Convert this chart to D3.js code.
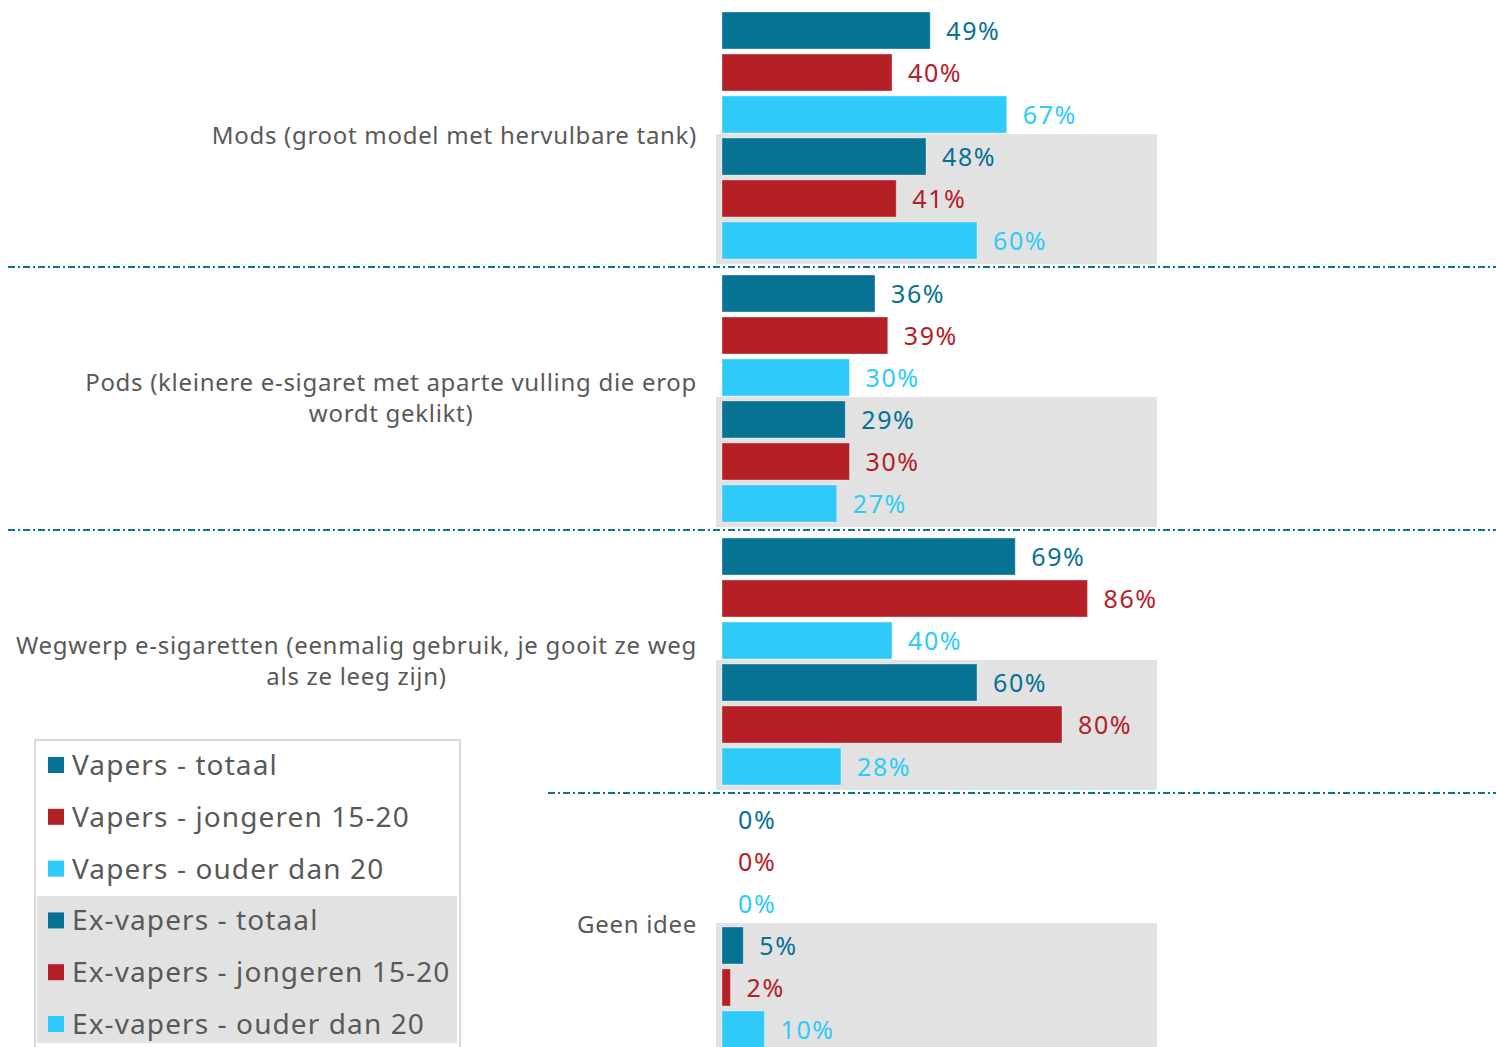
<!DOCTYPE html>
<html>
<head>
<meta charset="utf-8">
<script src="https://cdn.jsdelivr.net/npm/d3@7"></script>
<style>
  body { margin: 0; background: #fff; }
  svg { display: block; }
  text { font-family: "Noto Sans", sans-serif; }
</style>
</head>
<body>
<div id="chart"></div>
<script>
// categories (label lines as they wrap in the picture)
var categories = ["Mods", "Pods", "Wegwerp", "Geen idee"];
var categoryLines = [
  ["Mods (groot model met hervulbare tank)"],
  ["Pods (kleinere e-sigaret met aparte vulling die erop", "wordt geklikt)"],
  ["Wegwerp e-sigaretten (eenmalig gebruik, je gooit ze weg", "als ze leeg zijn)"],
  ["Geen idee"]
];
var seriesNames = [
  "Vapers - totaal",
  "Vapers - jongeren 15-20",
  "Vapers - ouder dan 20",
  "Ex-vapers - totaal",
  "Ex-vapers - jongeren 15-20",
  "Ex-vapers - ouder dan 20"
];
var vapersTotaal = [49, 36, 69, 0];
var vapersJongeren = [40, 39, 86, 0];
var vapersOuder = [67, 30, 40, 0];
var exTotaal = [48, 29, 60, 5];
var exJongeren = [41, 30, 80, 2];
var exOuder = [60, 27, 28, 10];
var seriesValues = [vapersTotaal, vapersJongeren, vapersOuder, exTotaal, exJongeren, exOuder];
var colors = ["#067294", "#b52027", "#2ecbfa", "#067294", "#b52027", "#2ecbfa"];

var width = 1496, height = 1047;
var svg = d3.select("#chart").append("svg").attr("width", width).attr("height", height);

var x = d3.scaleLinear().domain([0, 100]).range([722, 1147]);
var y = d3.scaleBand().domain(categories).range([6, 6 + 4 * 263]);
var yInner = d3.scaleBand().domain(d3.range(6)).range([3.5, 255.5])
  .paddingInner(5 / 42).paddingOuter(2.5 / 42);

var bgLeft = 716, bgRight = 1157;

// grey background behind the ex-vapers bars
svg.append("g").selectAll("rect").data(categories).enter().append("rect")
  .attr("x", bgLeft)
  .attr("y", function(d) { return y(d) + 128; })
  .attr("width", bgRight - bgLeft)
  .attr("height", 130)
  .attr("fill", "#e2e2e2");

// separators
var sepData = [
  {c: categories[1], x1: 8},
  {c: categories[2], x1: 8},
  {c: categories[3], x1: 548}
];
svg.append("g").selectAll("line").data(sepData).enter().append("line")
  .attr("x1", function(d) { return d.x1; })
  .attr("x2", width)
  .attr("y1", function(d) { return y(d.c) - 2; })
  .attr("y2", function(d) { return y(d.c) - 2; })
  .attr("stroke", "#0b7391")
  .attr("stroke-width", 2)
  .attr("stroke-dasharray", "7,3,2,3");

// bars
var rows = [];
categories.forEach(function(c, ci) {
  seriesValues.forEach(function(vals, si) {
    rows.push({cat: c, s: si, v: vals[ci]});
  });
});
var bars = svg.append("g");
bars.selectAll("rect").data(rows).enter().append("rect")
  .attr("x", x(0))
  .attr("y", function(d) { return y(d.cat) + yInner(d.s); })
  .attr("width", function(d) { return x(d.v) - x(0); })
  .attr("height", yInner.bandwidth())
  .attr("fill", function(d) { return colors[d.s]; })
  .attr("stroke", function(d) { return d.v > 0 ? "rgba(255,255,255,0.35)" : "none"; })
  .attr("stroke-width", 1);

bars.selectAll("text").data(rows).enter().append("text")
  .attr("x", function(d) { return x(d.v) + 16; })
  .attr("y", function(d) { return y(d.cat) + yInner(d.s) + yInner.bandwidth() / 2; })
  .attr("dy", "0.36em")
  .attr("fill", function(d) { return colors[d.s]; })
  .style("font-size", "25px")
  .style("letter-spacing", "1.6px")
  .text(function(d) { return d.v + "%"; });

// category labels
var labelRight = 697;
categories.forEach(function(c, ci) {
  var lines = categoryLines[ci];
  var g = svg.append("g");
  var mid = y(c) + 129;
  var lh = 31;
  var texts = g.selectAll("text").data(lines).enter().append("text")
    .attr("fill", "#595959")
    .style("font-size", "24px")
    .style("letter-spacing", "0.7px")
    .attr("dy", "0.36em")
    .attr("y", function(d, i) { return mid + (i - (lines.length - 1) / 2) * lh; })
    .text(function(d) { return d; });
  if (lines.length === 1) {
    texts.attr("x", labelRight).attr("text-anchor", "end");
  } else {
    var maxW = d3.max(texts.nodes(), function(n) { return n.getComputedTextLength(); });
    texts.attr("x", labelRight - maxW / 2).attr("text-anchor", "middle");
  }
});

// legend
var legend = svg.append("g");
legend.append("rect")
  .attr("x", 35).attr("y", 740).attr("width", 425).attr("height", 320)
  .attr("fill", "#fff").attr("stroke", "#d9d9d9").attr("stroke-width", 2);
legend.append("rect")
  .attr("x", 37).attr("y", 896).attr("width", 420).attr("height", 147)
  .attr("fill", "#e2e2e2");
var item = legend.selectAll(".item").data(seriesNames).enter().append("g")
  .attr("class", "item")
  .attr("transform", function(d, i) { return "translate(48," + (765 + i * 51.8) + ")"; });
item.append("rect")
  .attr("x", 0).attr("y", -8).attr("width", 16).attr("height", 16)
  .attr("fill", function(d, i) { return colors[i]; });
item.append("text")
  .attr("x", 24).attr("dy", "0.36em")
  .attr("fill", "#595959")
  .style("font-size", "28px")
  .style("letter-spacing", "1.1px")
  .text(function(d) { return d; });
</script>
</body>
</html>
